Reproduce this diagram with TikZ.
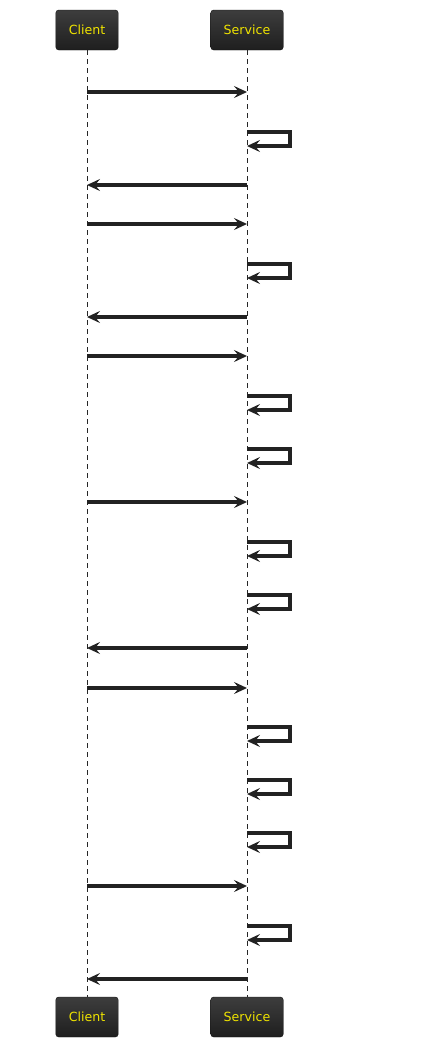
\documentclass[tikz,border=0pt]{standalone}
\usepackage{fontspec}
\newfontfamily\actorfont{DejaVu Sans}
\usetikzlibrary{arrows.meta}
\definecolor{actortext}{RGB}{240,228,0}
\definecolor{msgline}{RGB}{34,34,34}
\begin{document}
\begin{tikzpicture}[x=1pt, y=1pt, node distance=160pt,
            actor/.style={rectangle, draw=black!92, rounded corners=3pt, top color=black!76, bottom color=black!88, minimum height=40pt, inner xsep=13pt, text=actortext, font=\actorfont\fontsize{12.6}{15}\selectfont},
            lifeline/.style={draw=black!85, line width=0.8pt, dash pattern=on 5pt off 4pt},
            msgarrow/.style={-{Stealth[length=13pt, width=12pt, inset=5pt]}, line width=3.4pt, draw=msgline}]

        \useasboundingbox (0,0) rectangle (441,-1047);

        \node[actor] (ctop) at (87,-30) {Client};
        \node[actor, right of=ctop] (stop) {Service};
        \node[actor] (cbot) at (87,-1017) {Client};
        \node[actor] (sbot) at (247,-1017) {Service};

        \draw[lifeline] (ctop) -- (cbot);
        \draw[lifeline] (stop) -- (sbot);

        % requests
        \foreach \y in {92,224,356,502,688,886}
            \draw[msgarrow] (ctop |- 0,-\y) -- (stop |- 0,-\y);
        % replies
        \foreach \y in {185,317,648,979}
            \draw[msgarrow] (stop |- 0,-\y) -- (ctop |- 0,-\y);
        % self calls
        \foreach \y in {132,264,396,449,542,595,727,780,833,926}
            \draw[msgarrow] (stop |- 0,-\y) -- ++(43,0) |- (stop |- 0,-\y-14);
    \end{tikzpicture}
\end{document}
